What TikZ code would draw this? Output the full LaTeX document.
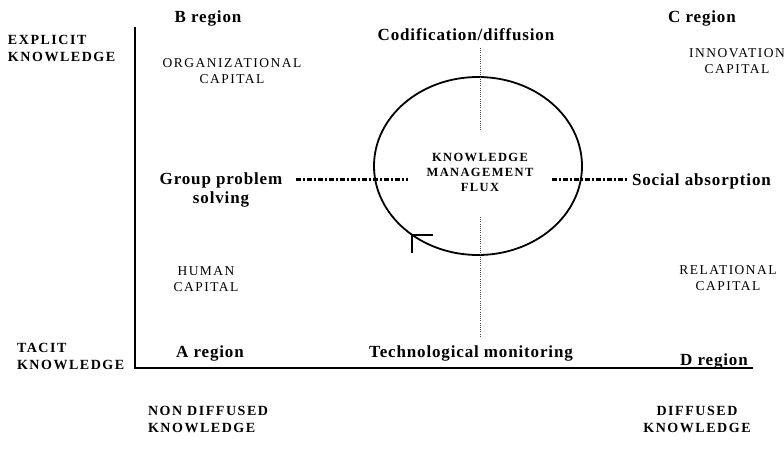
\documentclass[tikz,border=0pt]{standalone}
\usepackage{fontspec}
\setmainfont{Liberation Serif}
\newfontfamily\wideserif[LetterSpace=11]{Liberation Serif}
\newfontfamily\midserif[LetterSpace=5]{Liberation Serif}
\newfontfamily\capserif[LetterSpace=11]{Liberation Serif}
\begin{document}
\begin{tikzpicture}[x=1pt,y=-1pt,
  every node/.style={inner sep=0pt, outer sep=0pt},
  region/.style={font=\midserif\bfseries\fontsize{17}{19}\selectfont, align=center},
  axislabel/.style={font=\wideserif\bfseries\fontsize{14}{17}\selectfont, align=left},
  capital/.style={font=\capserif\fontsize{13.5}{16.5}\selectfont, align=center},
  flux/.style={font=\wideserif\bfseries\fontsize{12.5}{15}\selectfont, align=center},
  axisline/.style={line width=2pt},
  cycle/.style={line width=1.8pt},
  flow/.style={line width=0.8pt, dash pattern=on 1pt off 1.2pt, black!70},
  exchange/.style={line width=3pt, dash pattern=on 5pt off 2pt on 2pt off 2pt},
  turnmark/.style={line width=1.6pt}]
\useasboundingbox (0,0) rectangle (784,463);

% axes
\coordinate (origin) at (135,368);
\coordinate (ytop) at (135,27);
\coordinate (xend) at (753,368);
\draw[axisline] (ytop) -- (origin) -- (xend);

% axis labels
\node[axislabel, anchor=west] (explicit) at (8,48) {EXPLICIT\\KNOWLEDGE};
\node[axislabel, anchor=west] (tacit) at (17,356) {TACIT\\KNOWLEDGE};
\node[axislabel, anchor=west] (nondiff) at (148,419) {NON DIFFUSED\\KNOWLEDGE};
\node[axislabel, align=center] (diff) at (697,419) {DIFFUSED\\KNOWLEDGE};

% regions
\node[region] (breg) at (208,18) {B region};
\node[region] (creg) at (702,18) {C region};
\node[region] (areg) at (210,353) {A region};
\node[region] (dreg) at (714,361) {D region};

% capitals
\node[capital] (org) at (232,71) {ORGANIZATIONAL\\CAPITAL};
\node[capital] (inno) at (737,61) {INNOVATION\\CAPITAL};
\node[capital] (human) at (206,279) {HUMAN\\CAPITAL};
\node[capital] (rel) at (728,278) {RELATIONAL\\CAPITAL};

% processes
\node[region] (codif) at (466,35) {Codification/diffusion};
\node[region] (techmon) at (471,353) {Technological monitoring};
\node[region] (group) at (221,190) {Group problem\\solving};
\node[region, anchor=west] (social) at (632,181) {Social absorption};

% central cycle
\coordinate (kmc) at (478,166);
\draw[cycle] (kmc) ellipse [x radius=104pt, y radius=89pt];
\node[flux] (flux) at (480,172) {KNOWLEDGE\\MANAGEMENT\\FLUX};

% dotted vertical flows
\coordinate (vtopA) at (480,48);
\coordinate (vtopB) at (480,130);
\coordinate (vbotA) at (480,217);
\coordinate (vbotB) at (480,337);
\draw[flow] (vtopA) -- (vtopB);
\draw[flow] (vbotA) -- (vbotB);

% dash-dotted horizontal exchanges
\coordinate (hlA) at (296,179);
\coordinate (hlB) at (408,179);
\coordinate (hrA) at (552,179);
\coordinate (hrB) at (628,179);
\draw[exchange] (hlA) -- (hlB);
\draw[exchange] (hrA) -- (hrB);

% direction mark on the cycle
\coordinate (turn) at (412,235);
\draw[turnmark] (412,253) -- (turn) -- (433,235);
\end{tikzpicture}
\end{document}
